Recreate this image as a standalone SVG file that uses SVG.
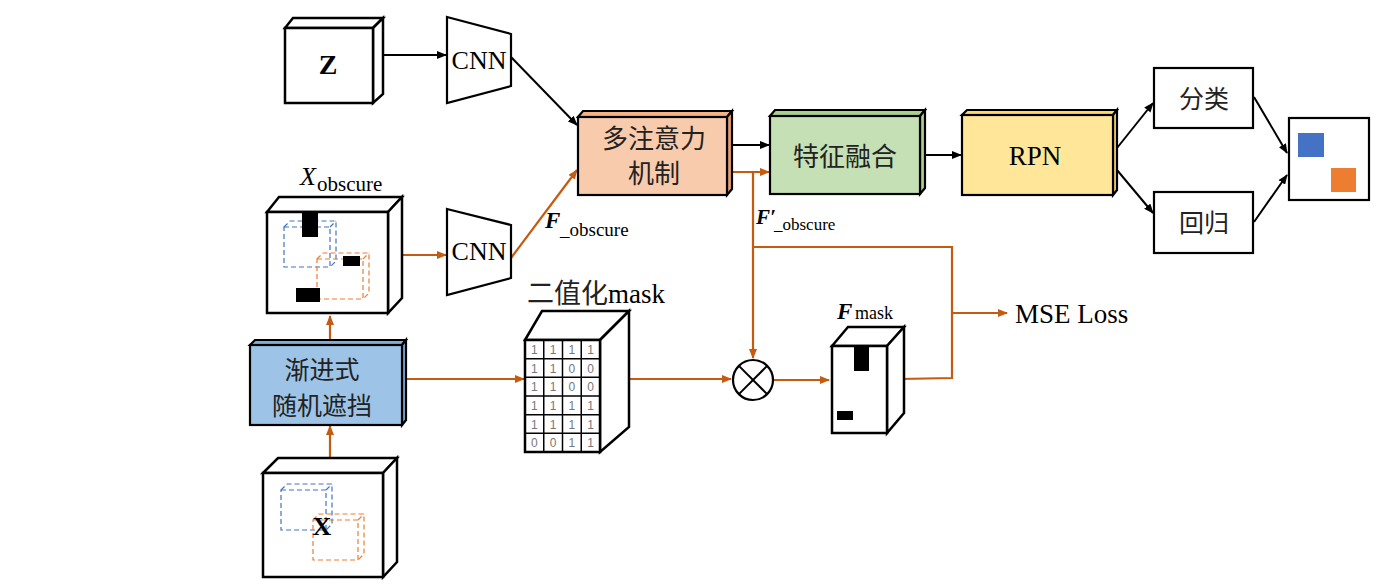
<svg xmlns="http://www.w3.org/2000/svg" width="1400" height="584" viewBox="0 0 1400 584">
<defs>
<marker id="ab" markerWidth="10" markerHeight="8" refX="9" refY="4" orient="auto" markerUnits="userSpaceOnUse"><path d="M0,0 L10,4 L0,8 Z" fill="#000"/></marker>
<marker id="ao" markerWidth="10" markerHeight="8" refX="9" refY="4" orient="auto" markerUnits="userSpaceOnUse"><path d="M0,0 L10,4 L0,8 Z" fill="#C55A11"/></marker>
<style>
.cube{fill:#fff;stroke:#000;stroke-width:2.5;stroke-linejoin:miter}
.box{stroke:#000;stroke-width:2.2}
.blk{fill:#000}
.lb{stroke:#000;stroke-width:2;fill:none}
.lo{stroke:#C55A11;stroke-width:2.2;fill:none}
.serif{font-family:"Liberation Serif","Times New Roman",serif;fill:#000}
.cjk{font-family:"Noto Sans CJK SC","Noto Sans",sans-serif;fill:#222}
.dblue{fill:none;stroke:#4472C4;stroke-width:1.2;stroke-dasharray:5,3}
.dorg{fill:none;stroke:#ED7D31;stroke-width:1.2;stroke-dasharray:5,3}
.grid{stroke:#000;stroke-width:1.5;fill:none}
.num{font-family:"Liberation Sans",Arial,sans-serif;font-size:12px;fill:#777;text-anchor:middle}
</style>
</defs>

<g id="connectors">
<line class="lb" x1="373" y1="55" x2="446" y2="55" marker-end="url(#ab)"/>
<line class="lb" x1="511" y1="57" x2="577" y2="125" marker-end="url(#ab)"/>
<line class="lo" x1="403" y1="255" x2="446" y2="255" marker-end="url(#ao)"/>
<line class="lo" x1="511" y1="258" x2="577" y2="170" marker-end="url(#ao)"/>
<line class="lb" x1="727" y1="145" x2="769" y2="145" marker-end="url(#ab)"/>
<line class="lo" x1="727" y1="172" x2="769" y2="172" marker-end="url(#ao)"/>
<line class="lb" x1="925" y1="155" x2="961" y2="155" marker-end="url(#ab)"/>
<line class="lb" x1="1117" y1="148" x2="1153" y2="103" marker-end="url(#ab)"/>
<line class="lb" x1="1117" y1="170" x2="1153" y2="213" marker-end="url(#ab)"/>
<line class="lb" x1="1254" y1="97" x2="1287" y2="153" marker-end="url(#ab)"/>
<line class="lb" x1="1254" y1="222" x2="1287" y2="175" marker-end="url(#ab)"/>
<line class="lo" x1="330" y1="345" x2="330" y2="316" marker-end="url(#ao)"/>
<line class="lo" x1="330" y1="472" x2="330" y2="426" marker-end="url(#ao)"/>
<line class="lo" x1="406" y1="379" x2="524" y2="379" marker-end="url(#ao)"/>
<line class="lo" x1="629" y1="379" x2="731" y2="379" marker-end="url(#ao)"/>
<polyline class="lo" points="753,172 753,358" marker-end="url(#ao)"/>
<polyline class="lo" points="753,247 952,247 952,378 900,379"/>
<line class="lo" x1="952" y1="313" x2="1007" y2="313" marker-end="url(#ao)"/>
<line class="lo" x1="774" y1="380" x2="829" y2="380" marker-end="url(#ao)"/>
</g>

<g id="node-z">
<polygon class="cube" points="285,28 293,18 383,18 373,28"/>
<polygon class="cube" points="373,28 383,18 383,94 373,103"/>
<rect class="cube" x="285" y="28" width="88" height="75"/>
<text class="serif" x="328" y="74" font-size="28" font-weight="bold" text-anchor="middle">Z</text>
</g>

<g id="node-cnn1">
<polygon points="447,17 511,34 511,86 447,103" fill="#fff" stroke="#000" stroke-width="2.2"/>
<text class="serif" x="479" y="69" font-size="26" text-anchor="middle">CNN</text>
</g>

<g id="node-xobscure">
<text class="serif" x="300" y="185" font-size="26" font-style="italic">X</text>
<text class="serif" x="317" y="191" font-size="21">obscure</text>
<polygon class="cube" points="267,212 279,197 402,197 388,212"/>
<polygon class="cube" points="388,212 402,197 402,298 388,313"/>
<rect class="cube" x="267" y="212" width="121" height="101"/>
<rect class="dblue" x="284" y="227" width="46" height="40"/>
<polyline class="dblue" points="284,227 290,221 336,221 336,261 330,267"/>
<line class="dblue" x1="330" y1="227" x2="336" y2="221"/>
<rect class="dorg" x="317" y="259" width="46" height="40"/>
<polyline class="dorg" points="317,259 323,253 369,253 369,293 363,299"/>
<line class="dorg" x1="363" y1="259" x2="369" y2="253"/>
<rect class="blk" x="302" y="213" width="16" height="24"/>
<rect class="blk" x="343" y="256" width="17" height="10"/>
<rect class="blk" x="296" y="288" width="24" height="14"/>
</g>

<g id="node-cnn2">
<polygon points="447,209 511,225 511,278 447,295" fill="#fff" stroke="#000" stroke-width="2.2"/>
<text class="serif" x="479" y="260" font-size="26" text-anchor="middle">CNN</text>
</g>

<g id="label-fobscure">
<text class="serif" x="545" y="228" font-size="23" font-style="italic" font-weight="bold">F</text>
<text class="serif" x="560" y="236" font-size="19">_obscure</text>
</g>

<g id="node-attention">
<polygon class="box" fill="#F4B183" points="578,117 583,111 732,111 727,117"/>
<polygon class="box" fill="#E9A070" points="727,117 732,111 732,189 727,195"/>
<rect class="box" x="578" y="117" width="149" height="78" fill="#F8CBAD"/>
<text class="cjk" x="654" y="148" font-size="26" text-anchor="middle">多注意力</text>
<text class="cjk" x="654" y="183" font-size="26" text-anchor="middle">机制</text>
</g>

<g id="node-fusion">
<polygon class="box" fill="#A9D18E" points="770,116 775,110 925,110 920,116"/>
<polygon class="box" fill="#A9D18E" points="920,116 925,110 925,188 920,194"/>
<rect class="box" x="770" y="116" width="150" height="78" fill="#C5E0B4"/>
<text class="cjk" x="845" y="166" font-size="26" text-anchor="middle">特征融合</text>
</g>

<g id="node-rpn">
<polygon class="box" fill="#FFD966" points="962,115 967,110 1117,110 1113,115"/>
<polygon class="box" fill="#FFD966" points="1113,115 1117,110 1117,190 1113,195"/>
<rect class="box" x="962" y="115" width="151" height="80" fill="#FFE699"/>
<text class="serif" x="1035" y="165" font-size="27" text-anchor="middle">RPN</text>
</g>

<g id="node-cls">
<rect class="box" x="1154" y="68" width="99" height="60" fill="#fff"/>
<text class="cjk" x="1204" y="108" font-size="25" text-anchor="middle">分类</text>
</g>

<g id="node-reg">
<rect class="box" x="1154" y="192" width="99" height="61" fill="#fff"/>
<text class="cjk" x="1204" y="232" font-size="25" text-anchor="middle">回归</text>
</g>

<g id="node-output">
<rect class="box" x="1289" y="118" width="80" height="82" fill="#fff"/>
<rect x="1298" y="133" width="26" height="24" fill="#4472C4"/>
<rect x="1331" y="168" width="25" height="24" fill="#ED7D31"/>
</g>

<g id="node-occlusion">
<polygon class="box" fill="#7FAEDA" points="250,345 255,340 406,340 402,345"/>
<polygon class="box" fill="#7FAEDA" points="402,345 406,340 406,420 402,425"/>
<rect class="box" x="250" y="345" width="152" height="80" fill="#9DC3E6"/>
<text class="cjk" x="322" y="379" font-size="25" text-anchor="middle">渐进式</text>
<text class="cjk" x="322" y="415" font-size="25" text-anchor="middle">随机遮挡</text>
</g>

<g id="node-x">
<polygon class="cube" points="263,473 278,458 397,458 383,473"/>
<polygon class="cube" points="383,473 397,458 397,562 383,577"/>
<rect class="cube" x="263" y="473" width="120" height="104"/>
<rect class="dblue" x="281" y="490" width="45" height="40"/>
<polyline class="dblue" points="281,490 287,484 332,484 332,524 326,530"/>
<line class="dblue" x1="326" y1="490" x2="332" y2="484"/>
<rect class="dorg" x="313" y="520" width="45" height="40"/>
<polyline class="dorg" points="313,520 319,514 364,514 364,554 358,560"/>
<line class="dorg" x1="358" y1="520" x2="364" y2="514"/>
<text class="serif" x="322" y="535" font-size="26" font-weight="bold" text-anchor="middle">X</text>
</g>

<g id="node-mask">
<text x="527" y="303" font-size="27"><tspan class="cjk" fill="#000">二值化</tspan><tspan class="serif">mask</tspan></text>
<polygon class="cube" points="525,340 542,311 629,311 600,340"/>
<polygon class="cube" points="600,340 629,311 629,427 600,452"/>
<rect class="cube" x="525" y="340" width="75" height="112"/>
<g class="grid">
<line x1="543.75" y1="340" x2="543.75" y2="452"/>
<line x1="562.5" y1="340" x2="562.5" y2="452"/>
<line x1="581.25" y1="340" x2="581.25" y2="452"/>
<line x1="525" y1="358.7" x2="600" y2="358.7"/>
<line x1="525" y1="377.3" x2="600" y2="377.3"/>
<line x1="525" y1="396" x2="600" y2="396"/>
<line x1="525" y1="414.7" x2="600" y2="414.7"/>
<line x1="525" y1="433.3" x2="600" y2="433.3"/>
</g>
<g class="num">
<text x="534.4" y="354">1</text><text x="553.1" y="354">1</text><text x="571.9" y="354">1</text><text x="590.6" y="354">1</text>
<text x="534.4" y="372.6">1</text><text x="553.1" y="372.6">1</text><text x="571.9" y="372.6">0</text><text x="590.6" y="372.6">0</text>
<text x="534.4" y="391.3">1</text><text x="553.1" y="391.3">1</text><text x="571.9" y="391.3">0</text><text x="590.6" y="391.3">0</text>
<text x="534.4" y="410">1</text><text x="553.1" y="410">1</text><text x="571.9" y="410">1</text><text x="590.6" y="410">1</text>
<text x="534.4" y="428.6">1</text><text x="553.1" y="428.6">1</text><text x="571.9" y="428.6">1</text><text x="590.6" y="428.6">1</text>
<text x="534.4" y="447.3">0</text><text x="553.1" y="447.3">0</text><text x="571.9" y="447.3">1</text><text x="590.6" y="447.3">1</text>
</g>
</g>

<g id="node-multiply">
<circle cx="753" cy="380" r="20" fill="#fff" stroke="#000" stroke-width="2.2"/>
<line x1="738.9" y1="365.9" x2="767.1" y2="394.1" stroke="#000" stroke-width="2"/>
<line x1="767.1" y1="365.9" x2="738.9" y2="394.1" stroke="#000" stroke-width="2"/>
</g>

<g id="label-fprime">
<text class="serif" x="756" y="224" font-size="21" font-style="italic" font-weight="bold">F′</text>
<text class="serif" x="774" y="230" font-size="17">_obscure</text>
</g>

<g id="node-fmask">
<text class="serif" x="837" y="319" font-size="23" font-style="italic" font-weight="bold">F</text>
<text class="serif" x="855" y="319" font-size="18">mask</text>
<polygon class="cube" points="832,346 848,327 904,327 887,346"/>
<polygon class="cube" points="887,346 904,327 904,413 887,433"/>
<rect class="cube" x="832" y="346" width="55" height="87"/>
<rect class="blk" x="854" y="347" width="15" height="24"/>
<rect class="blk" x="837" y="411" width="16" height="9"/>
</g>

<g id="node-mse">
<text class="serif" x="1015" y="323" font-size="27">MSE Loss</text>
</g>
</svg>
